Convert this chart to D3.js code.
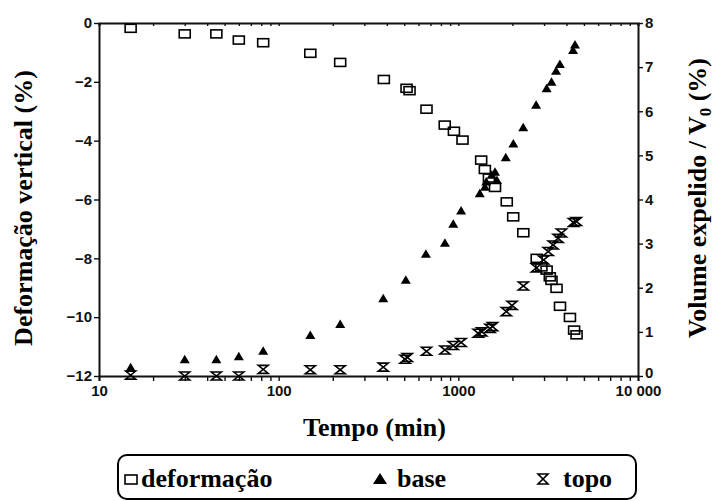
<!DOCTYPE html>
<html>
<head>
<meta charset="utf-8">
<script src="https://cdn.jsdelivr.net/npm/d3@7"></script>
<style>
  body { margin: 0; background: #fff; }
  .axis path, .axis line { stroke: #111; }
  .axis path { stroke-width: 2; }
  .axis line { stroke-width: 1.4; }
  .axis text {
    font-family: "Liberation Sans", Arial, sans-serif;
    font-size: 15px;
    font-weight: bold;
    fill: #111;
  }
</style>
</head>
<body>
<div id="chart"></div>
<script>
// Tempo (min) and vertical deformation (%), left axis
var tempoDef = [15, 30, 45, 60, 82, 150, 220, 385, 515, 535, 665, 840, 945, 1055,
  1340, 1405, 1480, 1600, 1860, 2020, 2300, 2730, 2900, 3100, 3230, 3300, 3520, 3680,
  4180, 4410, 4550];
var deformacao = [-0.18, -0.37, -0.37, -0.58, -0.67, -1.03, -1.34, -1.92, -2.22, -2.3,
  -2.93, -3.47, -3.68, -3.98, -4.66, -4.98, -5.27, -5.59, -6.08, -6.59, -7.13, -8.0,
  -8.29, -8.4, -8.63, -8.75, -9.02, -9.63, -10.01, -10.44, -10.6];

// volume expelled at base (%), right axis
var tempoBase = [15, 30, 45, 60, 82, 150, 220, 382, 510, 660, 842, 937, 1036, 1316,
  1406, 1430, 1532, 1600, 1640, 1836, 2024, 2297, 2710, 3100, 3300, 3500, 3675, 4350,
  4460];
var base = [0.2, 0.38, 0.38, 0.45, 0.57, 0.93, 1.18, 1.76, 2.18, 2.77, 3.02, 3.45, 3.75,
  4.14, 4.29, 4.41, 4.56, 4.63, 4.44, 4.96, 5.27, 5.64, 6.15, 6.52, 6.67, 6.92, 7.07,
  7.39, 7.51];

// volume expelled at top (%), right axis
var tempoTopo = [15, 30, 45, 60, 82, 150, 220, 382, 505, 520, 665, 842, 937, 1036, 1290,
  1350, 1500, 1550, 1850, 1990, 2300, 2720, 2980, 3165, 3370, 3590, 3750, 4370, 4540];
var topo = [0.02, 0.0, 0.0, 0.0, 0.15, 0.14, 0.14, 0.2, 0.38, 0.42, 0.56, 0.59, 0.69,
  0.76, 0.97, 1.0, 1.08, 1.12, 1.46, 1.6, 2.04, 2.45, 2.63, 2.82, 2.97, 3.12, 3.24,
  3.48, 3.5];

var ticksX = [10, 100, 1000, 10000];
var tickLabelsX = ['10', '100', '1000', '10 000'];
var ticksLeft = [0, -2, -4, -6, -8, -10, -12];
var ticksRight = [0, 1, 2, 3, 4, 5, 6, 7, 8];
var legendLabels = ['deformação', 'base', 'topo'];

var serif = '"Liberation Serif", "Times New Roman", Tinos, "DejaVu Serif", serif';

var width = 714, height = 501;
var margins = { top: 23, right: 76, bottom: 125, left: 99 };
var chartWidth = width - margins.left - margins.right;
var chartHeight = height - margins.top - margins.bottom;

var svg = d3.select('#chart')
  .append('svg')
  .attr('width', width)
  .attr('height', height);

var chartElement = svg.append('g')
  .attr('transform', `translate(${margins.left},${margins.top})`);

var xScale = d3.scaleLog().domain([10, 10000]).range([0, chartWidth]);
var yLeft = d3.scaleLinear().domain([-12, 0]).range([chartHeight, 0]);
var yRight = d3.scaleLinear().domain([0, 8]).range([chartHeight, 0]);

// minor log ticks (2..9 of each decade)
var minorTicks = [];
[10, 100, 1000].forEach(function(d) {
  for (var k = 2; k <= 9; k++) minorTicks.push(d * k);
});

// Axes
chartElement.append('g')
  .attr('class', 'x axis')
  .attr('transform', `translate(0,${chartHeight})`)
  .call(d3.axisBottom(xScale)
    .tickValues(ticksX)
    .tickSize(5)
    .tickPadding(4)
    .tickFormat(function(d, i) { return tickLabelsX[i]; }));

chartElement.append('g')
  .attr('class', 'x minor axis')
  .attr('transform', `translate(0,${chartHeight})`)
  .call(d3.axisBottom(xScale).tickValues(minorTicks).tickSize(5).tickFormat(''))
  .select('.domain').remove();

chartElement.append('g')
  .attr('class', 'x top axis')
  .call(d3.axisBottom(xScale)
    .tickValues(ticksX.concat(minorTicks))
    .tickSizeOuter(0)
    .tickSize(3)
    .tickFormat(''));

chartElement.append('g')
  .attr('class', 'y axis')
  .call(d3.axisLeft(yLeft)
    .tickValues(ticksLeft)
    .tickSize(5)
    .tickPadding(2)
    .tickSizeOuter(0));

chartElement.append('g')
  .attr('class', 'y axis right')
  .attr('transform', `translate(${chartWidth},0)`)
  .call(d3.axisRight(yRight)
    .tickValues(ticksRight)
    .tickSize(5)
    .tickPadding(2)
    .tickSizeOuter(0));

// lift the right "0" a little so it clears the "10 000" label
chartElement.selectAll('.y.axis.right .tick text')
  .filter(d => d === 0)
  .attr('dy', '0.1em');

// Markers
var trianglePath = 'M0,-4.5L5,4L-5,4Z';
var hourglassPath = 'M-5,-4H5L-5,4H5Z';

var markers = chartElement.append('g').attr('class', 'markers');

markers.selectAll('rect.def')
  .data(tempoDef.map(function(t, i) { return { t: t, v: deformacao[i] }; }))
  .enter()
  .append('rect')
  .attr('class', 'def')
  .attr('x', d => xScale(d.t) - 5.5)
  .attr('y', d => yLeft(d.v) - 4)
  .attr('width', 11)
  .attr('height', 8)
  .attr('fill', 'none')
  .attr('stroke', '#000')
  .attr('stroke-width', 1.6);

markers.selectAll('path.base')
  .data(tempoBase.map(function(t, i) { return { t: t, v: base[i] }; }))
  .enter()
  .append('path')
  .attr('class', 'base')
  .attr('d', trianglePath)
  .attr('transform', d => `translate(${xScale(d.t)},${yRight(d.v)})`)
  .attr('fill', '#000');

markers.selectAll('path.topo')
  .data(tempoTopo.map(function(t, i) { return { t: t, v: topo[i] }; }))
  .enter()
  .append('path')
  .attr('class', 'topo')
  .attr('d', hourglassPath)
  .attr('transform', d => `translate(${xScale(d.t)},${yRight(d.v)})`)
  .attr('fill', 'none')
  .attr('stroke', '#000')
  .attr('stroke-width', 1.6);

// Axis titles
var titleStyle = function(sel) {
  sel.style('font-family', serif)
    .style('font-weight', 'bold')
    .style('font-size', '26px')
    .attr('fill', '#000');
};

svg.append('text')
  .call(titleStyle)
  .attr('text-anchor', 'middle')
  .attr('transform', 'translate(32,208) rotate(-90)')
  .text('Deformação vertical (%)');

var rightTitle = svg.append('text')
  .call(titleStyle)
  .attr('text-anchor', 'middle')
  .attr('transform', 'translate(706,198) rotate(-90)');
rightTitle.append('tspan').text('Volume expelido / V');
rightTitle.append('tspan').style('font-size', '17px').attr('dy', 5).text('0');
rightTitle.append('tspan').attr('dy', -5).text(' (%)');

svg.append('text')
  .call(titleStyle)
  .attr('text-anchor', 'middle')
  .attr('x', margins.left + chartWidth / 2 + 6)
  .attr('y', 436)
  .text('Tempo (min)');

// Legend
var legend = svg.append('g').attr('class', 'legend');

legend.append('rect')
  .attr('x', 118)
  .attr('y', 455)
  .attr('width', 518)
  .attr('height', 44)
  .attr('rx', 9)
  .attr('fill', '#fff')
  .attr('stroke', '#000')
  .attr('stroke-width', 2);

var legendX = [131, 380, 543];
var legendItems = legend.selectAll('g.item')
  .data(legendLabels)
  .enter()
  .append('g')
  .attr('class', 'item')
  .attr('transform', (d, i) => `translate(${legendX[i]},479)`);

legendItems.filter((d, i) => i === 0)
  .append('rect')
  .attr('x', -6).attr('y', -4).attr('width', 12).attr('height', 9)
  .attr('fill', 'none').attr('stroke', '#000').attr('stroke-width', 1.6);
legendItems.filter((d, i) => i === 1)
  .append('path').attr('d', 'M0,-6L7,5L-7,5Z').attr('fill', '#000');
legendItems.filter((d, i) => i === 2)
  .append('path').attr('d', 'M-5,-5H5L-5,5H5Z')
  .attr('fill', 'none').attr('stroke', '#000').attr('stroke-width', 1.6);

legendItems.append('text')
  .call(titleStyle)
  .attr('x', (d, i) => [10, 17, 20][i])
  .attr('y', 8)
  .text(d => d);
</script>
</body>
</html>
